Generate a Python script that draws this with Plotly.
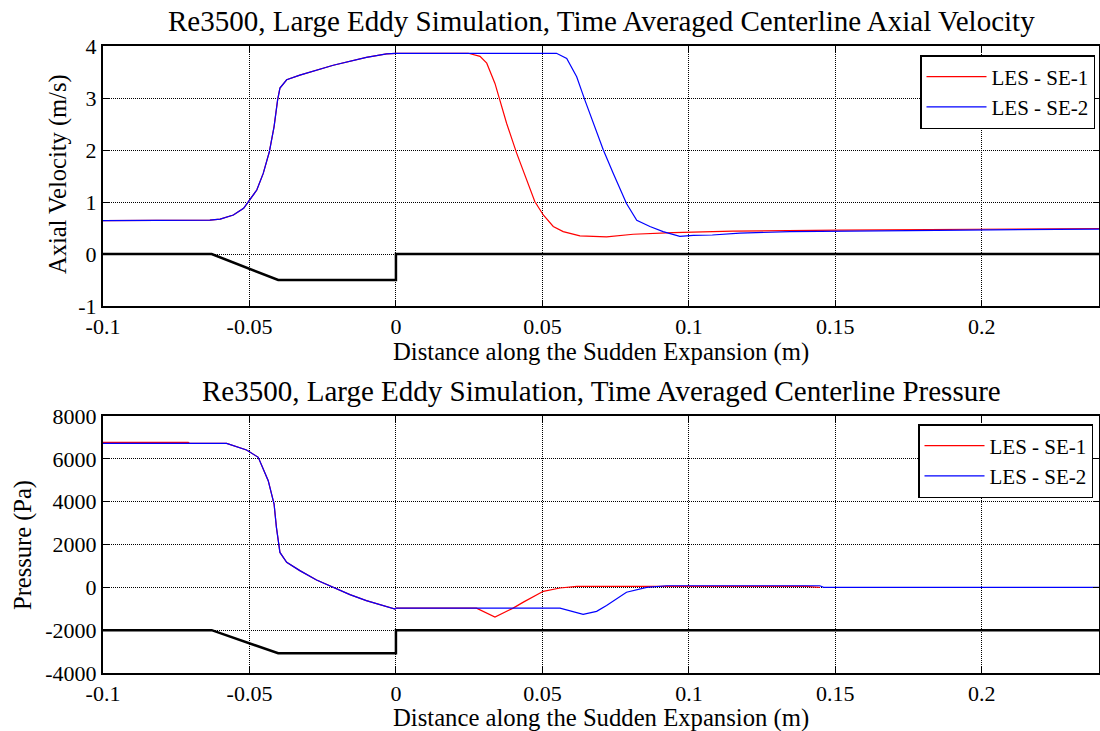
import plotly.graph_objects as go

# ---------------- data ----------------
# Velocity (top panel)
vel_se1_x = [-0.1, -0.0635, -0.060, -0.0555, -0.052, -0.0504, -0.0475, -0.0453, -0.0432, -0.0416,
             -0.0404, -0.0396, -0.0373, -0.0328, -0.0214, -0.0101, -0.0032, 0.0,
             0.0247, 0.0287, 0.031, 0.0338, 0.0355, 0.0378, 0.0412, 0.0446, 0.0474, 0.0503,
             0.0537, 0.0571, 0.0628, 0.0719, 0.081, 0.0946, 0.1038, 0.115, 0.1515, 0.198, 0.24]
vel_se1_y = [0.64, 0.65, 0.67, 0.75, 0.88, 1.01, 1.23, 1.55, 1.97, 2.45,
             2.96, 3.19, 3.35, 3.44, 3.63, 3.78, 3.85, 3.86,
             3.86, 3.80, 3.67, 3.28, 2.96, 2.51, 1.94, 1.42, 1.01, 0.75,
             0.53, 0.43, 0.35, 0.33, 0.38, 0.41, 0.42, 0.44, 0.46, 0.48, 0.49]

vel_se2_x = [-0.1, -0.0635, -0.060, -0.0555, -0.052, -0.0504, -0.0475, -0.0453, -0.0432, -0.0416,
             -0.0404, -0.0396, -0.0373, -0.0328, -0.0214, -0.0101, -0.0032, 0.0,
             0.0548, 0.0583, 0.0617, 0.0645, 0.0674, 0.0708, 0.0742, 0.0787, 0.0822, 0.0867,
             0.0912, 0.0969, 0.1015, 0.108, 0.1174, 0.1345, 0.175, 0.205, 0.24]
vel_se2_y = [0.64, 0.65, 0.67, 0.75, 0.88, 1.01, 1.23, 1.55, 1.97, 2.45,
             2.96, 3.19, 3.35, 3.44, 3.63, 3.78, 3.85, 3.86,
             3.86, 3.76, 3.41, 2.96, 2.51, 2.00, 1.55, 0.97, 0.65, 0.53,
             0.43, 0.34, 0.36, 0.365, 0.40, 0.43, 0.45, 0.47, 0.48]

# Pressure (bottom panel)
pres_se1_x = [-0.1, -0.0709, -0.0705, -0.0578, -0.051, -0.047, -0.0436, -0.0416, -0.0408, -0.0396,
              -0.0373, -0.0328, -0.0271, -0.0214, -0.0157, -0.0101, -0.0043, -0.0003, 0.0,
              0.0275, 0.0338, 0.040, 0.0435, 0.0503, 0.056, 0.0617, 0.140, 0.1447]
pres_se1_y = [6770, 6770, 6724, 6724, 6415, 6070, 4980, 3890, 2800, 1630,
              1170, 780, 340, 0, -340, -620, -860, -1010, -970,
              -970, -1385, -970, -690, -185, -30, 45, 45, 0]

pres_se2_x = [-0.1, -0.0578, -0.051, -0.047, -0.0436, -0.0416, -0.0408, -0.0396,
              -0.0373, -0.0328, -0.0271, -0.0214, -0.0157, -0.0101, -0.0043, -0.0003, 0.0,
              0.056, 0.0639, 0.0685, 0.0719, 0.0787, 0.0856, 0.0924, 0.1447, 0.146, 0.24]
pres_se2_y = [6724, 6724, 6415, 6070, 4980, 3890, 2800, 1630,
              1170, 780, 340, 0, -340, -620, -860, -1010, -970,
              -970, -1260, -1120, -850, -230, 0, 75, 75, 0, 0]

# Geometry outline of the sudden expansion
geom_x = [-0.1, -0.0629, -0.0402, 0.0, 0.0, 0.24]
geom_vel_y = [0, 0, -0.5, -0.5, 0, 0]
geom_pres_y = [-2000, -2000, -3080, -3080, -2000, -2000]

# Ticks
x_ticks = [-0.1, -0.05, 0, 0.05, 0.1, 0.15, 0.2]
x_tick_text = ["-0.1", "-0.05", "0", "0.05", "0.1", "0.15", "0.2"]
vel_ticks = [-1, 0, 1, 2, 3, 4]
vel_tick_text = ["-1", "0", "1", "2", "3", "4"]
pres_ticks = [-4000, -2000, 0, 2000, 4000, 6000, 8000]
pres_tick_text = ["-4000", "-2000", "0", "2000", "4000", "6000", "8000"]

title_top = "Re3500, Large Eddy Simulation, Time Averaged Centerline Axial Velocity"
title_bot = "Re3500, Large Eddy Simulation, Time Averaged Centerline Pressure"
xlabel = "Distance along the Sudden Expansion (m)"

# ---------------- figure ----------------
FONT = "Liberation Serif"
W, H = 1100, 731
fig = go.Figure()

fig.add_trace(go.Scatter(x=geom_x, y=geom_vel_y, mode="lines", line=dict(color="black", width=2.5),
                         showlegend=False, xaxis="x", yaxis="y", hoverinfo="skip"))
fig.add_trace(go.Scatter(x=vel_se1_x, y=vel_se1_y, mode="lines", name="LES - SE-1",
                         line=dict(color="#ff0000", width=1.2), xaxis="x", yaxis="y", legend="legend"))
fig.add_trace(go.Scatter(x=vel_se2_x, y=vel_se2_y, mode="lines", name="LES - SE-2",
                         line=dict(color="#0000ff", width=1.2), xaxis="x", yaxis="y", legend="legend"))

fig.add_trace(go.Scatter(x=geom_x, y=geom_pres_y, mode="lines", line=dict(color="black", width=2.5),
                         showlegend=False, xaxis="x2", yaxis="y2", hoverinfo="skip"))
fig.add_trace(go.Scatter(x=pres_se1_x, y=pres_se1_y, mode="lines", name="LES - SE-1",
                         line=dict(color="#ff0000", width=1.2), xaxis="x2", yaxis="y2", legend="legend2"))
fig.add_trace(go.Scatter(x=pres_se2_x, y=pres_se2_y, mode="lines", name="LES - SE-2",
                         line=dict(color="#0000ff", width=1.2), xaxis="x2", yaxis="y2", legend="legend2"))

left, right = 103, 1099
top1, bot1 = 46, 306
top2, bot2 = 416, 673

tickfont = dict(family=FONT, size=22, color="black")
common_axis = dict(showline=True, linecolor="black", linewidth=2, mirror="ticks",
                   ticks="inside", ticklen=6, tickcolor="black", tickwidth=1,
                   showgrid=True, gridcolor="black", griddash="1px,1px", gridwidth=1,
                   zeroline=False, tickfont=tickfont, automargin=False)

legend_common = dict(xanchor="right", yanchor="top", bgcolor="white", bordercolor="black",
                     borderwidth=1.5, font=dict(family=FONT, size=21, color="black"),
                     tracegroupgap=0, itemwidth=60)

fig.update_layout(
    template="none",
    width=W, height=H,
    margin=dict(l=0, r=0, t=0, b=0, pad=0),
    paper_bgcolor="white", plot_bgcolor="white",
    font=dict(family=FONT, color="black"),
    xaxis=dict(domain=[left / W, right / W], range=[-0.1, 0.24], tickvals=x_ticks, ticktext=x_tick_text,
               anchor="y", **common_axis),
    yaxis=dict(domain=[1 - bot1 / H, 1 - top1 / H], range=[-1, 4], tickvals=vel_ticks, ticktext=vel_tick_text,
               anchor="x", **common_axis),
    xaxis2=dict(domain=[left / W, right / W], range=[-0.1, 0.24], tickvals=x_ticks, ticktext=x_tick_text,
                anchor="y2", **common_axis),
    yaxis2=dict(domain=[1 - bot2 / H, 1 - top2 / H], range=[-4000, 8000], tickvals=pres_ticks,
                ticktext=pres_tick_text, anchor="x2", **common_axis),
    legend=dict(x=1095 / W, y=1 - 55 / H, **legend_common),
    legend2=dict(x=1093 / W, y=1 - 424 / H, **legend_common),
    showlegend=True,
)

cx = (left + right) / 2 / W
ann = []
ann.append(dict(text=title_top, x=cx, y=1 - 21 / H, font=dict(family=FONT, size=29, color="black")))
ann.append(dict(text=title_bot, x=cx, y=1 - 391 / H, font=dict(family=FONT, size=29, color="black")))
ann.append(dict(text=xlabel, x=cx, y=1 - 352 / H, font=dict(family=FONT, size=24.7, color="black")))
ann.append(dict(text=xlabel, x=cx, y=1 - 718 / H, font=dict(family=FONT, size=24.7, color="black")))
ann.append(dict(text="Axial Velocity (m/s)", x=58 / W, y=1 - 174 / H, textangle=-90,
                font=dict(family=FONT, size=24.5, color="black")))
ann.append(dict(text="Pressure (Pa)", x=23 / W, y=1 - 545 / H, textangle=-90,
                font=dict(family=FONT, size=24.5, color="black")))
for a in ann:
    a.update(xref="paper", yref="paper", xanchor="center", yanchor="middle", showarrow=False)
fig.update_layout(annotations=ann)

fig.write_html("out.html")
